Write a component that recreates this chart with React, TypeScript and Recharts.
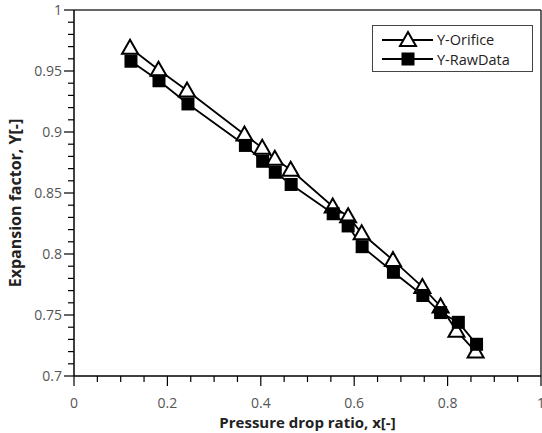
import React from "react";
import {
  LineChart,
  Line,
  XAxis,
  YAxis,
  ReferenceLine,
} from "recharts";

const xOrifice = [0.12, 0.181, 0.242, 0.365, 0.403, 0.43, 0.464, 0.554, 0.587, 0.616, 0.683, 0.746, 0.785, 0.819, 0.86];
const yOrifice = [0.969, 0.951, 0.934, 0.898, 0.887, 0.878, 0.869, 0.839, 0.831, 0.817, 0.795, 0.773, 0.757, 0.737, 0.72];
const xRaw = [0.122, 0.182, 0.244, 0.367, 0.404, 0.431, 0.465, 0.555, 0.587, 0.617, 0.684, 0.747, 0.785, 0.823, 0.862];
const yRaw = [0.958, 0.942, 0.923, 0.889, 0.876, 0.867, 0.857, 0.833, 0.823, 0.806, 0.785, 0.766, 0.752, 0.744, 0.726];

const xTicks = [0, 0.05, 0.1, 0.15, 0.2, 0.25, 0.3, 0.35, 0.4, 0.45, 0.5, 0.55, 0.6, 0.65, 0.7, 0.75, 0.8, 0.85, 0.9, 0.95, 1];
const xMajor = [0, 0.2, 0.4, 0.6, 0.8, 1];
const yTicks = [
  0.7, 0.71, 0.72, 0.73, 0.74, 0.75, 0.76, 0.77, 0.78, 0.79, 0.8, 0.81, 0.82, 0.83, 0.84, 0.85,
  0.86, 0.87, 0.88, 0.89, 0.9, 0.91, 0.92, 0.93, 0.94, 0.95, 0.96, 0.97, 0.98, 0.99, 1,
];
const yMajor = [0.7, 0.75, 0.8, 0.85, 0.9, 0.95, 1];

const seriesNames = ["Y-Orifice", "Y-RawData"];

const orificeData = xOrifice.map((x, i) => ({ x, y: yOrifice[i] }));
const rawData = xRaw.map((x, i) => ({ x, y: yRaw[i] }));

const FONT = "'Open Sans', 'DejaVu Sans', sans-serif";
const isMajor = (v: number, list: number[]) => list.some((m) => Math.abs(m - v) < 1e-6);

const Tri = ({ cx, cy }: { cx: number; cy: number }) => (
  <polygon
    points={`${cx},${cy - 8} ${cx - 8},${cy + 6} ${cx + 8},${cy + 6}`}
    fill="#fff"
    stroke="#000"
    strokeWidth={2}
  />
);

const Sq = ({ cx, cy }: { cx: number; cy: number }) => (
  <rect x={cx - 6.5} y={cy - 6.5} width={13} height={13} fill="#000" />
);

const XTick = (props: any) => {
  const { x, y, payload } = props;
  const major = isMajor(payload.value, xMajor);
  return (
    <g>
      <line x1={x} x2={x} y1={y} y2={y + (major ? 10 : 6)} stroke="#000" strokeWidth={1.2} />
      {major && (
        <text x={x} y={y + 32} textAnchor="middle" fontSize={14} fill="#555" fontFamily={FONT}>
          {String(payload.value)}
        </text>
      )}
    </g>
  );
};

const YTick = (props: any) => {
  const { x, y, payload } = props;
  const major = isMajor(payload.value, yMajor);
  return (
    <g>
      <line x1={x} x2={x - (major ? 10 : 6)} y1={y} y2={y} stroke="#000" strokeWidth={1.2} />
      {major && (
        <text x={x - 12} y={y + 5} textAnchor="end" fontSize={14} fill="#555" fontFamily={FONT}>
          {String(payload.value)}
        </text>
      )}
    </g>
  );
};

const YTitle = (props: any) => {
  const vb = props.viewBox || { x: 0, y: 10, width: 74, height: 366 };
  const cx = vb.x + 15;
  const cy = vb.y + vb.height / 2 + 10;
  return (
    <text
      x={cx}
      y={cy}
      transform={`rotate(-90, ${cx}, ${cy})`}
      textAnchor="middle"
      dominantBaseline="central"
      fontSize={16}
      fontWeight="bold"
      fill="#222"
      fontFamily={FONT}
    >
      Expansion factor, Y[-]
    </text>
  );
};

const LegendBox = () => (
  <div
    style={{
      position: "absolute",
      left: 372,
      top: 25,
      width: 161,
      height: 47,
      boxSizing: "border-box",
      border: "1px solid #444",
      background: "#fff",
    }}
  >
    <svg width={159} height={45} style={{ display: "block" }}>
      <line x1={9} x2={60} y1={14} y2={14} stroke="#000" strokeWidth={2} />
      <Tri cx={35} cy={14} />
      <text x={64} y={19} fontSize={14.5} fill="#222" fontFamily={FONT}>
        {seriesNames[0]}
      </text>
      <line x1={9} x2={60} y1={33} y2={33} stroke="#000" strokeWidth={2} />
      <Sq cx={35} cy={33} />
      <text x={64} y={38.5} fontSize={14.5} fill="#222" fontFamily={FONT}>
        {seriesNames[1]}
      </text>
    </svg>
  </div>
);

export default function App() {
  return (
    <div style={{ position: "absolute", left: 0, top: 0, width: 542, height: 433, background: "#fff" }}>
      <LineChart width={542} height={433} margin={{ top: 10, right: 1, bottom: 0, left: 0 }}>
        <XAxis
          type="number"
          dataKey="x"
          domain={[0, 1]}
          ticks={xTicks}
          interval={0}
          height={57}
          tickSize={0}
          tickMargin={0}
          tick={<XTick />}
          axisLine={{ stroke: "#000", strokeWidth: 1.5 }}
          label={{
            value: "Pressure drop ratio, x[-]",
            position: "insideBottom",
            offset: 5,
            fontSize: 15,
            fontWeight: "bold",
            fill: "#222",
            fontFamily: FONT,
          }}
        />
        <YAxis
          type="number"
          dataKey="y"
          domain={[0.7, 1]}
          ticks={yTicks}
          interval={0}
          width={74}
          tickSize={0}
          tickMargin={0}
          tick={<YTick />}
          axisLine={{ stroke: "#000", strokeWidth: 1.5 }}
          label={{ content: <YTitle /> }}
        />
        <ReferenceLine y={1} stroke="#333" strokeWidth={1.5} />
        <ReferenceLine x={1} stroke="#333" strokeWidth={1.5} />
        <Line
          data={orificeData}
          dataKey="y"
          name={seriesNames[0]}
          stroke="#000"
          strokeWidth={1.8}
          isAnimationActive={false}
          dot={(p: any) => <Tri key={`o-${p.index}`} cx={p.cx} cy={p.cy} />}
        />
        <Line
          data={rawData}
          dataKey="y"
          name={seriesNames[1]}
          stroke="#000"
          strokeWidth={1.8}
          isAnimationActive={false}
          dot={(p: any) => <Sq key={`r-${p.index}`} cx={p.cx} cy={p.cy} />}
        />
      </LineChart>
      <LegendBox />
    </div>
  );
}
